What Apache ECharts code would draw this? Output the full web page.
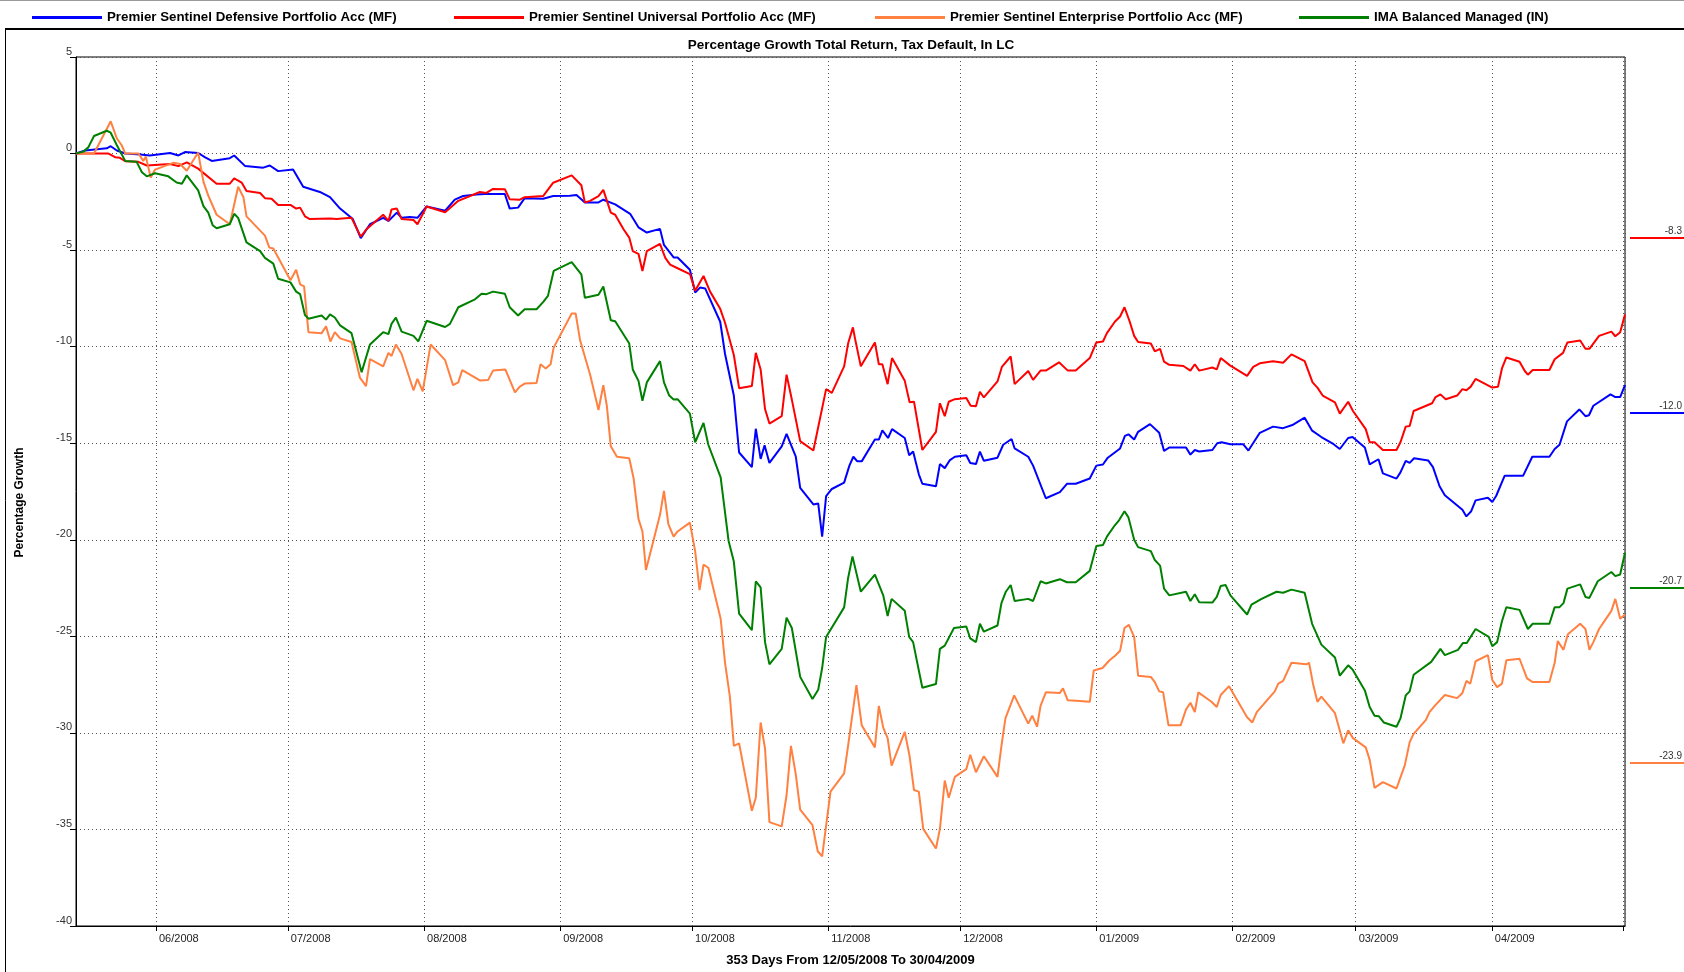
<!DOCTYPE html>
<html>
<head>
<meta charset="utf-8">
<title>Percentage Growth</title>
<script src="https://cdn.jsdelivr.net/npm/echarts@6/dist/echarts.min.js"></script>
<style>
  html, body { margin: 0; padding: 0; background: #fff; }
  #chart { width: 1684px; height: 972px; }
</style>
</head>
<body>
<div id="chart"></div>
<script>
// days counted from 12/05/2008, value = % growth
const seriesNames = [
  'Premier Sentinel Defensive Portfolio Acc (MF)',
  'Premier Sentinel Universal Portfolio Acc (MF)',
  'Premier Sentinel Enterprise Portfolio Acc (MF)',
  'IMA Balanced Managed (IN)'
];
const seriesColors = ['#0000ff', '#ff0000', '#ff8040', '#008000'];

const defensive = [
  [1.8,0],[3.9,0.16],[8.8,0.27],[9.7,0.38],[11.1,0.16],[13,0],[16.4,-0.05],[18.6,-0.1],[23.2,0.03],[25.1,-0.1],
  [26.6,0.08],[29.6,0.03],[31.2,-0.2],[32.7,-0.38],[36.8,-0.24],[37.8,-0.1],[40.3,-0.65],[44.4,-0.73],[45.9,-0.62],
  [47.8,-0.91],[51.2,-0.83],[53.5,-1.72],[57.3,-1.99],[59.6,-2.26],[61.9,-2.85],[64.8,-3.39],[66.6,-4.38],[68.7,-3.66],
  [71.7,-3.33],[72.9,-3.49],[74.8,-3.06],[75.9,-3.33],[77.8,-3.28],[79.5,-3.33],[81.6,-2.74],[85.8,-2.96],[88,-2.39],
  [89.9,-2.2],[92.9,-2.12],[94.8,-2.1],[99.4,-2.1],[100.5,-2.85],[102.4,-2.8],[103.9,-2.31],[108.1,-2.34],[110.4,-2.2],
  [114.2,-2.18],[115.7,-2.15],[117.6,-2.53],[120.7,-2.53],[121.8,-2.39],[124.5,-2.63],[127.9,-3.12],[129.8,-3.82],
  [131.7,-4.09],[134.7,-3.9],[135.6,-4.73],[137.8,-5.38],[138.7,-5.38],[141.5,-6.02],[142.7,-7.2],[143.8,-6.94],
  [145,-6.99],[148.4,-8.71],[149.5,-10.38],[151.5,-12.53],[152.7,-15.48],[155.6,-16.24],[156.5,-14.25],[157.6,-15.81],
  [158.5,-15.11],[159.6,-16.02],[162.4,-15.16],[163.5,-14.52],[165.6,-15.7],[166.6,-17.31],[169.6,-18.17],[170.7,-18.12],
  [171.6,-19.84],[172.5,-17.74],[173.8,-17.37],[176.6,-17.04],[177.8,-16.16],[178.7,-15.7],[179.6,-15.94],[180.6,-15.94],
  [183.6,-14.81],[184.5,-14.81],[185.3,-14.33],[186.6,-14.73],[187.5,-14.27],[190.4,-14.73],[191.4,-15.62],[192.3,-15.43],
  [193.6,-16.61],[194.4,-17.1],[197.5,-17.23],[198.4,-16.08],[199.5,-16.29],[200.6,-15.89],[201.8,-15.7],[204.4,-15.62],
  [205.3,-16.02],[206.6,-16.08],[207.5,-15.43],[208.4,-15.91],[211.5,-15.75],[212.8,-15.08],[214.7,-14.78],[215.4,-15.27],
  [218.5,-15.7],[219.6,-16.16],[222.5,-17.85],[225.7,-17.53],[227.3,-17.1],[229.3,-17.1],[232.5,-16.83],[234,-16.16],
  [235.5,-16.1],[236.6,-15.75],[239.4,-15.27],[240.5,-14.62],[241.3,-14.54],[242.6,-14.81],[243.5,-14.41],[246.2,-14.01],
  [248.3,-14.46],[249.4,-15.4],[250.6,-15.22],[254.4,-15.22],[255.4,-15.59],[256.4,-15.35],[257.4,-15.43],[260.4,-15.35],
  [261.5,-15],[262.5,-14.95],[264.5,-15.05],[267.4,-15.05],[268.6,-15.38],[271.2,-14.46],[274.2,-14.14],[276.5,-14.22],
  [278.6,-14.06],[281.4,-13.68],[283.1,-14.35],[285.2,-14.68],[288,-15.05],[289.4,-15.3],[291.3,-14.73],[292.3,-14.68],
  [295.1,-15.22],[296.2,-16.1],[298.2,-15.83],[299.2,-16.56],[302.3,-16.83],[303.2,-16.51],[304.4,-15.91],[305.3,-16.02],
  [306.3,-15.78],[309.5,-15.89],[310.6,-16.24],[312.1,-17.23],[313.3,-17.69],[317.3,-18.44],[318.2,-18.79],[319.3,-18.52],
  [320.3,-17.96],[323.1,-17.82],[324.1,-18.04],[325,-17.72],[326.9,-16.69],[331.1,-16.69],[333.2,-15.7],[337.1,-15.7],
  [338.3,-15.3],[339.4,-15.08],[341.1,-13.87],[343.9,-13.25],[345.3,-13.6],[346.1,-13.55],[347.1,-13.06],[351,-12.47],
  [352.1,-12.61],[353.2,-12.61],[354.3,-11.99]
];

const universal = [
  [1.8,0],[9.2,0],[10.7,-0.19],[11.8,-0.22],[13,-0.4],[16,-0.43],[17.9,-0.62],[23.2,-0.54],[25.1,-0.65],[27,-0.46],
  [29.6,-0.78],[33.8,-1.56],[36.8,-1.56],[37.8,-1.29],[39.5,-1.5],[40.6,-1.94],[43.7,-2.04],[44.8,-2.31],[46.3,-2.34],
  [47.8,-2.66],[50.6,-2.66],[51.9,-2.85],[52.8,-2.8],[53.9,-3.25],[55,-3.39],[59.6,-3.36],[61.1,-3.39],[64.5,-3.33],
  [66.6,-4.3],[67.9,-3.92],[71.7,-3.17],[72.9,-3.49],[73.6,-2.9],[74.8,-2.85],[75.9,-3.39],[78.6,-3.44],[79.5,-3.66],
  [81.6,-2.74],[85.8,-3.04],[88.8,-2.45],[93.7,-1.99],[95.2,-2.04],[96.7,-1.83],[99.4,-1.85],[100.5,-2.37],[102.8,-2.39],
  [103.9,-2.26],[108.1,-2.2],[110.4,-1.51],[114.6,-1.13],[116.8,-1.64],[117.6,-2.53],[118.8,-2.45],[120.7,-2.2],
  [121.8,-1.88],[123.5,-3.06],[124.5,-3.17],[126.4,-3.92],[127.7,-4.35],[128.5,-5.05],[129.8,-5.19],[130.7,-6.08],
  [131.7,-5.05],[134.7,-4.68],[135.9,-5.4],[137,-5.75],[138.7,-5.94],[141.5,-6.24],[142.7,-7.1],[144.6,-6.34],
  [146.1,-7.15],[148.4,-8.04],[149.5,-8.76],[151.5,-10.43],[152.7,-12.15],[155.6,-12.04],[156.5,-10.32],[157.6,-11.18],
  [158.6,-13.23],[159.6,-13.98],[162.4,-13.6],[163.5,-11.45],[164.7,-12.74],[166.6,-14.89],[169.6,-15.38],[172.5,-12.2],
  [173.8,-12.39],[176.6,-11.02],[177.5,-9.84],[178.6,-9.0],[179.1,-9.6],[180.4,-11.02],[183.6,-9.78],[184.5,-10.91],
  [185.3,-10.91],[186.5,-11.94],[187.5,-10.59],[190.4,-11.77],[191.5,-12.88],[192.5,-12.85],[194.4,-15.35],[197.5,-14.41],
  [198.4,-12.93],[199.5,-13.6],[200.4,-12.85],[201.8,-12.72],[204.4,-12.66],[205.4,-13.06],[206.6,-13.09],[207.5,-12.34],
  [208.4,-12.63],[211.5,-11.8],[212.5,-11.05],[214.5,-10.51],[215.4,-11.94],[218.5,-11.26],[219.6,-11.72],[221.3,-11.24],
  [222.5,-11.24],[225.5,-10.81],[227.5,-11.24],[229.3,-11.24],[232.5,-10.59],[234,-9.78],[235.5,-9.73],[236.4,-9.3],
  [238.2,-8.71],[239.4,-8.44],[240.4,-7.96],[241.6,-8.71],[242.6,-9.44],[243.5,-9.76],[246.4,-9.84],[247.3,-10.24],
  [248.5,-10.11],[249.4,-10.78],[250.6,-10.94],[253.8,-11],[255.4,-11.24],[256.4,-10.91],[257.4,-11.24],[260.4,-11.08],
  [261.4,-11.18],[262.3,-10.59],[264.4,-10.97],[268.3,-11.51],[269.7,-11.05],[271.2,-10.86],[274.2,-10.75],[276.5,-10.83],
  [278.4,-10.4],[281.4,-10.75],[283.2,-11.85],[284.3,-12.12],[285.5,-12.53],[288.3,-12.88],[289.4,-13.47],[291.3,-12.85],
  [292.4,-13.33],[295.3,-14.27],[296.2,-14.95],[297.3,-14.95],[299.2,-15.35],[302.3,-15.35],[303.2,-14.95],[304.4,-14.14],
  [305.3,-14.11],[306.2,-13.33],[310.4,-12.93],[311.2,-12.61],[312.3,-12.47],[313.5,-12.72],[316.1,-12.53],[317.3,-12.2],
  [318.2,-12.26],[319.2,-12.07],[320.3,-11.67],[324.1,-12.12],[325.4,-12.07],[326.3,-11.13],[327.3,-10.56],[330.3,-10.78],
  [331.5,-11.26],[332.2,-11.45],[333.3,-11.21],[337.1,-11.21],[338.3,-10.65],[340.2,-10.32],[341.2,-9.78],[344.1,-9.68],
  [345.3,-10.11],[346.2,-10.11],[348.4,-9.44],[351.2,-9.22],[352.1,-9.46],[353.2,-9.25],[354.3,-8.33]
];

const enterprise = [
  [1.8,0],[5.9,0],[9.7,1.67],[11.1,0.78],[12.2,0.43],[13,0],[16,0],[17.1,-0.38],[17.7,-0.16],[18.8,-1.24],[19.8,-0.83],
  [23.9,-0.48],[25.5,-0.54],[27,-0.89],[29.6,0.05],[30.8,-1.45],[31.9,-2.18],[33.8,-3.17],[36.8,-3.66],[38.7,-1.72],
  [39.9,-2.26],[40.6,-3.25],[44.8,-4.25],[45.8,-4.87],[46.7,-4.92],[50.6,-6.56],[51.9,-6.02],[52.8,-6.77],[53.7,-6.88],
  [54.7,-9.25],[57.7,-9.3],[58.7,-8.95],[59.7,-9.73],[60.7,-9.25],[61.9,-9.57],[64.5,-9.76],[66.4,-11.6],[67.8,-12.04],
  [68.7,-10.65],[71.7,-11.02],[72.9,-10.32],[73.6,-10.48],[74.6,-9.89],[75.9,-10.38],[78.6,-12.26],[79.5,-11.67],
  [80.7,-12.31],[82.5,-9.89],[85.8,-10.7],[87.6,-11.99],[88.8,-11.85],[89.7,-11.21],[93.7,-11.75],[95.6,-11.72],
  [96.7,-11.24],[99.5,-11.18],[101.7,-12.37],[102.8,-12.07],[103.9,-11.91],[106.6,-11.88],[107.5,-10.91],[108.7,-11.13],
  [109.8,-10.91],[110.5,-10.05],[114.6,-8.28],[115.5,-8.28],[116.5,-9.65],[118.8,-11.45],[120.7,-13.28],[121.8,-11.99],
  [122.6,-13.06],[123.5,-15.16],[124.9,-15.7],[127.7,-15.78],[128.7,-16.83],[129.8,-18.92],[130.7,-19.57],[131.5,-21.56],
  [134.7,-18.71],[135.6,-17.47],[136.6,-19.19],[137.8,-19.84],[138.7,-19.57],[141.5,-19.11],[142.7,-20.59],[143.7,-22.61],
  [144.6,-21.29],[145.7,-21.45],[148.5,-24.09],[149.5,-26.37],[150.6,-28.12],[151.5,-30.67],[152.7,-30.54],[155.6,-34.03],
  [156.5,-33.36],[157.6,-29.46],[158.6,-30.81],[159.6,-34.62],[162.4,-34.84],[163.5,-33.23],[164.5,-30.67],[165.6,-32.15],
  [166.6,-33.98],[169.4,-34.78],[170.6,-36.13],[171.6,-36.4],[173.5,-33.04],[176.6,-32.1],[177.5,-30.67],[179.4,-27.53],
  [180.6,-29.6],[183.6,-30.75],[184.5,-28.6],[185.5,-29.73],[186.5,-30.27],[187.4,-31.69],[190.4,-29.95],[191.5,-31.21],
  [192.5,-32.96],[193.6,-33.04],[194.6,-34.97],[197.5,-35.99],[198.4,-34.97],[199.5,-32.47],[200.4,-33.36],[201.8,-32.28],
  [204.4,-31.88],[205.3,-31.13],[206.6,-32.04],[208.4,-31.21],[211.5,-32.28],[212.4,-30.67],[213.3,-29.25],[215.3,-28.06],
  [218.5,-29.52],[219.4,-29.11],[220.5,-29.68],[221.3,-28.6],[222.5,-27.9],[225.7,-27.93],[226.4,-27.69],[227.5,-28.31],
  [229.4,-28.33],[232.5,-28.39],[233.4,-26.77],[235.4,-26.64],[237,-26.24],[238.2,-26.02],[239.4,-25.75],[240.4,-24.57],
  [241.4,-24.41],[242.6,-25.03],[243.5,-27.04],[246.4,-27.1],[247.3,-27.37],[248.3,-27.85],[249.2,-27.9],[250.4,-29.6],
  [253.2,-29.6],[254.4,-28.79],[255.4,-28.44],[256.4,-28.92],[257.2,-27.9],[260.2,-28.39],[261.4,-28.66],[262.3,-28.04],
  [264.2,-27.58],[268.3,-29.19],[269.5,-29.46],[270.5,-28.92],[274.6,-27.85],[275.4,-27.45],[276.5,-27.31],[278.4,-26.37],
  [281.8,-26.45],[282.4,-26.37],[283.3,-27.45],[284.3,-28.39],[285.2,-28.12],[288.3,-28.98],[290.2,-30.54],[291.3,-29.87],
  [292.4,-30.27],[295.3,-30.75],[296.2,-31.4],[297.3,-32.85],[299.2,-32.55],[302.3,-32.88],[304.2,-31.67],[305.3,-30.48],
  [306.2,-30.05],[309,-29.33],[309.8,-28.92],[311,-28.6],[313.3,-28.04],[316.1,-28.2],[317.3,-27.93],[318.2,-27.31],
  [319.1,-27.45],[320.3,-26.29],[323.1,-25.97],[324.1,-27.26],[325.2,-27.63],[326.3,-27.45],[327.3,-26.24],[330.3,-26.16],
  [332,-27.18],[333.3,-27.37],[337.1,-27.37],[338.3,-26.37],[339,-25.24],[340.3,-25.7],[341.3,-24.89],[344.1,-24.35],
  [345.3,-24.62],[346.2,-25.7],[347.1,-25.3],[348.4,-24.62],[351.2,-23.68],[352.1,-23.06],[353.2,-24.09],[354.3,-23.87]
];

const imaBalanced = [
  [1.8,0],[3.5,0.1],[4.6,0.32],[5.9,0.91],[8.8,1.18],[9.7,1.08],[11.1,0.43],[13,-0.38],[15.6,-0.43],[16.8,-0.97],
  [17.9,-1.18],[19.8,-1.02],[22.8,-1.18],[24.7,-1.5],[25.9,-1.56],[27,-1.13],[29.6,-1.91],[30.8,-2.72],[31.9,-3.06],
  [32.9,-3.71],[33.8,-3.87],[36.8,-3.66],[37.8,-3.12],[38.7,-3.33],[40.6,-4.6],[43.7,-5.05],[44.8,-5.4],[46.7,-5.7],
  [47.8,-6.48],[50.6,-6.67],[51.9,-7.15],[52.8,-7.28],[53.9,-8.36],[54.7,-8.55],[57.7,-8.39],[58.7,-8.6],[59.6,-8.33],
  [60.7,-8.49],[61.9,-8.9],[64.5,-9.3],[66.8,-11.32],[68.7,-9.89],[71.7,-9.25],[72.9,-9.35],[73.6,-8.82],[74.6,-8.49],
  [75.9,-9.22],[78.6,-9.44],[79.7,-9.73],[81.6,-8.66],[85.8,-8.98],[86.9,-8.82],[88.8,-7.96],[92.6,-7.55],[94.1,-7.26],
  [95.2,-7.28],[96.7,-7.15],[99.4,-7.26],[100.5,-7.96],[102.4,-8.39],[103.9,-8.06],[106.6,-8.06],[108.1,-7.69],
  [109.2,-7.37],[110.5,-6.08],[114.6,-5.62],[116.8,-6.26],[117.6,-7.47],[120.7,-7.31],[121.8,-6.88],[123.5,-8.63],
  [124.5,-8.68],[127.7,-9.84],[128.5,-11.18],[129.8,-11.77],[130.7,-12.8],[131.7,-11.85],[134.7,-10.75],[135.6,-11.85],
  [136.8,-12.53],[137.8,-12.74],[138.7,-12.72],[141.5,-13.47],[142.7,-14.95],[144.6,-13.95],[145.7,-15.08],[148.5,-16.77],
  [150.3,-20.05],[151.5,-21.13],[152.7,-23.82],[155.6,-24.68],[156.5,-22.15],[157.6,-22.47],[158.6,-25.3],[159.6,-26.45],
  [162.4,-25.65],[163.5,-24.03],[164.7,-24.57],[166.6,-27.1],[169.4,-28.25],[170.7,-27.77],[171.6,-26.64],[172.5,-25.03],
  [176.6,-23.5],[177.5,-21.99],[178.5,-20.86],[180.4,-22.69],[183.6,-21.8],[185.5,-22.88],[186.5,-23.95],[187.4,-23.06],
  [190.4,-23.68],[191.4,-25.03],[192.3,-25.3],[193.6,-26.77],[194.4,-27.66],[197.5,-27.47],[198.4,-25.65],[199.5,-25.48],
  [201.6,-24.57],[204.4,-24.49],[205.3,-25.11],[206.6,-25.3],[207.5,-24.35],[208.4,-24.76],[211.5,-24.44],[212.4,-23.28],
  [213.4,-22.69],[214.5,-22.34],[215.4,-23.17],[218.5,-23.06],[219.6,-23.17],[221.3,-22.15],[222.5,-22.26],[225.7,-22.04],
  [227.3,-22.2],[229.3,-22.2],[232.5,-21.61],[234,-20.32],[235.5,-20.27],[236.4,-19.84],[238.2,-19.25],[239.2,-18.98],
  [240.4,-18.52],[241.3,-18.84],[242.6,-20],[243.5,-20.38],[246.4,-20.59],[247.3,-21.05],[248.5,-21.34],[249.4,-22.53],
  [250.6,-22.88],[254.4,-22.69],[255.4,-23.17],[256.4,-22.82],[257.4,-23.23],[260.4,-23.25],[261.4,-22.96],[262.3,-22.39],
  [263.4,-22.34],[264.5,-22.88],[268.3,-23.87],[269.3,-23.36],[271.6,-23.06],[275,-22.69],[276.5,-22.74],[278.4,-22.58],
  [281.4,-22.74],[283.1,-24.35],[285.2,-25.43],[288.3,-26.1],[289.4,-27.04],[291.3,-26.5],[292.3,-26.72],[295.1,-27.8],
  [296.2,-28.66],[297.3,-29.11],[298.3,-29.14],[299.4,-29.46],[302.3,-29.68],[303.2,-29.25],[304.4,-28.06],[305.3,-27.85],
  [306.2,-26.99],[310.2,-26.32],[312.3,-25.65],[313.3,-25.97],[316.3,-25.7],[317.4,-25.35],[318.3,-25.35],[320.3,-24.62],
  [323.3,-25.03],[324.1,-25.51],[325.2,-25.3],[326.3,-24.22],[327.3,-23.49],[330.3,-23.63],[332.2,-24.62],[333.3,-24.35],
  [337.1,-24.35],[338.3,-23.49],[339.4,-23.49],[340.3,-23.28],[341.2,-22.53],[344.1,-22.31],[345.3,-22.96],[346.2,-23.01],
  [348.1,-22.15],[351.2,-21.67],[352.1,-21.88],[353.2,-21.8],[354.3,-20.67]
];

const yTicks = { min: -40, max: 5, step: 5 };

const DAY = 86400000;
const startTime = new Date(2008, 4, 12).getTime();
const axisMin = startTime + 1.8 * DAY;
const axisMax = startTime + 354.3 * DAY;
const toTime = d => startTime + d[0] * DAY;
const allData = [defensive, universal, enterprise, imaBalanced];

const chart = echarts.init(document.getElementById('chart'));
const FONT = 'Liberation Sans, Arial, sans-serif';

const legendLeft = [27, 449, 870, 1294];
const legends = seriesNames.map((name, i) => ({
  data: [name],
  left: legendLeft[i],
  top: 6,
  icon: 'rect',
  itemWidth: 70,
  itemHeight: 3,
  selectedMode: false,
  textStyle: { fontFamily: FONT, fontWeight: 'bold', fontSize: 13.3, color: '#000' }
}));

const series = allData.map((arr, i) => ({
  name: seriesNames[i],
  type: 'line',
  data: arr.map(d => [toTime(d), d[1]]),
  showSymbol: false,
  color: seriesColors[i],
  lineStyle: { width: 2, color: seriesColors[i] },
  z: 3 + i
}));

// end value tags on the right
const order = allData.map((arr, i) => i).sort((a, b) => allData[b][allData[b].length - 1][1] - allData[a][allData[a].length - 1][1]);
const tags = [];
order.forEach((idx, k) => {
  const y = 238 + k * 175;
  const last = allData[idx][allData[idx].length - 1][1];
  tags.push({ type: 'line', shape: { x1: 1630, y1: y, x2: 1684, y2: y }, style: { stroke: seriesColors[idx], lineWidth: 2 } });
  tags.push({ type: 'text', style: { x: 1682, y: y - 2, text: last.toFixed(1), textAlign: 'right', textVerticalAlign: 'bottom', font: '10px ' + FONT, fill: '#333' } });
});

const option = {
  animation: false,
  backgroundColor: '#fff',
  legend: legends,
  title: {
    text: 'Percentage Growth Total Return, Tax Default, In LC',
    left: 846, top: 33, textAlign: 'center',
    textStyle: { fontFamily: FONT, fontWeight: 'bold', fontSize: 13.5, color: '#000' }
  },
  grid: { left: 76, right: 59, top: 57, bottom: 40, show: true, borderColor: '#000', borderWidth: 1 },
  xAxis: {
    type: 'time',
    min: axisMin,
    max: axisMax,
    splitNumber: 12,
    minInterval: 28 * DAY,
    maxInterval: 31 * DAY,
    name: '353 Days From 12/05/2008 To 30/04/2009',
    nameLocation: 'middle',
    nameGap: 28,
    nameTextStyle: { fontFamily: FONT, fontWeight: 'bold', fontSize: 13, color: '#000' },
    axisLine: { onZero: false, lineStyle: { color: '#000', width: 1 } },
    axisTick: { show: true, length: 5, lineStyle: { color: '#000' } },
    axisLabel: {
      showMinLabel: false, showMaxLabel: false,
      align: 'left', margin: 7, padding: [0, 0, 0, 3],
      fontFamily: FONT, fontSize: 11, color: '#222',
      formatter: v => {
        const d = new Date(v);
        if (d.getDate() !== 1 || v > axisMax - 5 * DAY) return '';
        const m = d.getMonth() + 1;
        return (m < 10 ? '0' + m : m) + '/' + d.getFullYear();
      }
    },
    splitLine: { show: true, lineStyle: { type: [1, 3], color: '#555', width: 1 } }
  },
  yAxis: {
    type: 'value',
    min: yTicks.min, max: yTicks.max, interval: yTicks.step,
    name: 'Percentage Growth',
    nameLocation: 'middle',
    nameGap: 50,
    nameTextStyle: { fontFamily: FONT, fontWeight: 'bold', fontSize: 12, color: '#000', padding: [0, 22, 0, 0] },
    axisLine: { show: true, lineStyle: { color: '#000', width: 1 } },
    axisTick: { show: true, length: 6, lineStyle: { color: '#000' } },
    axisLabel: { margin: 4, verticalAlign: 'bottom', fontFamily: FONT, fontSize: 11, color: '#333' },
    splitLine: { show: true, lineStyle: { type: [1, 3], color: '#555', width: 1 } }
  },
  graphic: [
    { type: 'line', shape: { x1: 0, y1: 0.5, x2: 1684, y2: 0.5 }, style: { stroke: '#999', lineWidth: 1 } },
    { type: 'line', shape: { x1: 5, y1: 29, x2: 1684, y2: 29 }, style: { stroke: '#000', lineWidth: 2 } },
    { type: 'line', shape: { x1: 5.5, y1: 29, x2: 5.5, y2: 972 }, style: { stroke: '#000', lineWidth: 1 } }
  ].concat(tags),
  series: series
};

chart.setOption(option);
</script>
</body>
</html>
